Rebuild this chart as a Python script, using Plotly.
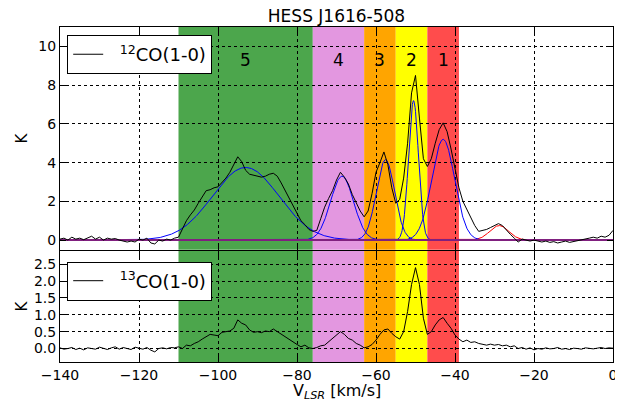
import numpy as np
import plotly.graph_objects as go

# ---------------- data ----------------
velocity = list(range(-140, 1))  # km/s

co12 = [0.05, 0.1, 0.0, 0.15, 0.05, 0.1, 0.02, 0.12, 0.2, 0.05,
        0.15, 0.0, 0.1, 0.05, 0.08, 0.0, -0.05, -0.1, -0.05, -0.1,
        0.05, 0.0, 0.1, -0.15, -0.2, 0.0, -0.05, 0.05, 0.0, 0.1,
        0.15, 0.6, 1.0, 1.3, 1.55, 1.9, 2.2, 2.55, 2.6, 2.7,
        2.75, 2.95, 3.2, 3.5, 3.9, 4.3, 4.05, 3.6, 3.4, 3.35,
        3.3, 3.25, 3.3, 3.4, 3.45, 3.3, 2.95, 2.55, 2.2, 1.8,
        1.35, 1.0, 0.8, 0.55, 0.45, 0.5, 1.1, 1.7, 2.15, 2.55,
        3.1, 3.5, 3.25, 2.9, 2.35, 1.95, 1.5, 1.2, 1.5, 2.4,
        3.5, 4.0, 4.55, 3.9, 2.7, 1.9, 2.1, 3.2, 5.0, 7.6,
        8.5, 6.3, 4.2, 3.8, 4.2, 5.0, 5.7, 6.05, 5.6, 4.7,
        3.7, 2.7, 2.0, 1.6, 1.15, 0.75, 0.45, 0.5, 0.55, 0.65,
        0.75, 0.85, 0.75, 0.5, 0.3, 0.1, -0.1, 0.05, 0.0, -0.05,
        0.0, -0.05, -0.1, -0.05, -0.12, -0.08, -0.15, -0.1, -0.05, -0.12,
        -0.08, -0.05, 0.0, 0.05, 0.1, 0.15, 0.1, 0.2, 0.15, 0.25,
        0.5]

co13 = [0.02, -0.02, 0.0, 0.03, -0.03, 0.01, -0.04, 0.02, 0.0, -0.02,
        0.04, 0.0, -0.03, 0.02, 0.05, -0.02, 0.03, 0.0, -0.03, 0.04,
        0.01, -0.02, 0.03, -0.05, -0.1, 0.0, 0.02, -0.01, 0.03, 0.02,
        0.05, 0.0, 0.1, 0.08, 0.15, 0.2, 0.28, 0.35, 0.42, 0.4,
        0.38, 0.48, 0.5, 0.52, 0.6, 0.85, 0.75, 0.7, 0.55, 0.48,
        0.5, 0.47, 0.52, 0.5, 0.58, 0.5, 0.42, 0.35, 0.28, 0.2,
        0.12, 0.05, 0.1, 0.02, 0.0, 0.03, 0.08, 0.1, 0.2, 0.3,
        0.38, 0.5, 0.42, 0.3, 0.25, 0.15, 0.1, 0.02, 0.05, 0.12,
        0.25, 0.42, 0.55, 0.58, 0.45, 0.35, 0.28, 0.5, 1.1, 1.9,
        2.4, 1.9, 0.9, 0.42, 0.5, 0.7, 0.85, 0.92, 0.75, 0.6,
        0.4, 0.28, 0.2, 0.25, 0.18, 0.2, 0.15, 0.12, 0.1, 0.13,
        0.1, 0.12, 0.08, 0.1, 0.05, 0.08, 0.0, 0.03, -0.02, 0.02,
        -0.04, 0.0, -0.02, 0.02, -0.01, 0.0, 0.03, -0.02, 0.0, -0.03,
        0.01, 0.0, -0.02, 0.02, 0.0, -0.01, 0.01, 0.03, 0.0, 0.02,
        0.01]

# Gaussian fit components (blue)
gauss_center = [-43.0, -50.5, -57.6, -68.6, -93.0]
gauss_amp = [5.2, 7.2, 4.15, 3.3, 3.75]
gauss_sigma = [2.9, 1.25, 2.3, 2.9, 8.4]
# extra component (red)
red_center = -28.8
red_amp = 0.75
red_sigma = 2.4

# velocity bands
band_lo = [-110, -76, -63, -55, -47]
band_hi = [-76, -63, -55, -47, -39]
band_colors = ["#4ca64c", "#e397e0", "#ffa500", "#ffff00", "#ff4c4c"]
band_labels = ["5", "4", "3", "2", "1"]

# ---------------- figure ----------------
FONT = "DejaVu Sans"
fig = go.Figure()

vfine = np.linspace(-140, 0, 1401)
fig.add_trace(go.Scatter(x=vfine, y=red_amp * np.exp(-(vfine - red_center) ** 2 / (2 * red_sigma ** 2)),
                         mode="lines", line=dict(color="#ff0000", width=1),
                         showlegend=False, xaxis="x", yaxis="y"))
for c, a, s in zip(gauss_center, gauss_amp, gauss_sigma):
    fig.add_trace(go.Scatter(x=vfine, y=a * np.exp(-(vfine - c) ** 2 / (2 * s * s)),
                             mode="lines", line=dict(color="#0000ff", width=1),
                             showlegend=False, xaxis="x", yaxis="y"))
fig.add_trace(go.Scatter(x=[-140, 0], y=[0, 0], mode="lines",
                         line=dict(color="#80207f", width=2),
                         showlegend=False, xaxis="x", yaxis="y", hoverinfo="skip"))

fig.add_trace(go.Scatter(x=velocity, y=co12, mode="lines",
                         line=dict(color="black", width=1),
                         name="  <sup>12</sup>CO(1-0)", legend="legend",
                         xaxis="x", yaxis="y"))
fig.add_trace(go.Scatter(x=velocity, y=co13, mode="lines",
                         line=dict(color="black", width=1),
                         name="  <sup>13</sup>CO(1-0)", legend="legend2",
                         xaxis="x2", yaxis="y2"))

shapes = []
annotations = []
for lo, hi, col, lab in zip(band_lo, band_hi, band_colors, band_labels):
    for xr, yr in (("x", "y domain"), ("x2", "y2 domain")):
        shapes.append(dict(type="rect", xref=xr, yref=yr, x0=lo, x1=hi, y0=0, y1=1,
                           fillcolor=col, line=dict(width=0), layer="below"))
    annotations.append(dict(x=(lo + hi) / 2, y=9.3, xref="x", yref="y", text=lab,
                            showarrow=False, font=dict(size=17, color="black", family=FONT)))

# axis titles as annotations so the plot area does not move
annotations.append(dict(x=-38 / 553, y=0.5 * (0.335 + 1), xref="paper", yref="paper", text="K",
                        showarrow=False, textangle=-90, xanchor="center", yanchor="middle",
                        font=dict(size=15, family=FONT, color="black")))
annotations.append(dict(x=-38 / 553, y=0.5 * 0.332, xref="paper", yref="paper", text="K",
                        showarrow=False, textangle=-90, xanchor="center", yanchor="middle",
                        font=dict(size=15, family=FONT, color="black")))
annotations.append(dict(x=0.5, y=-17 / 335, xref="paper", yref="paper",
                        text="V<sub><i>LSR</i></sub> [km/s]",
                        showarrow=False, xanchor="center", yanchor="top",
                        font=dict(size=16, family=FONT, color="black")))

axis_common = dict(showline=True, linecolor="black", linewidth=1, mirror="allticks",
                   ticks="inside", ticklen=6, tickcolor="black", automargin=False,
                   showgrid=True, gridcolor="black", griddash="dot", gridwidth=1,
                   zeroline=False, tickfont=dict(size=14, family=FONT, color="black"))

# page has an 8px body margin: figure is 8px smaller and margins shifted
fig.update_layout(
    width=615, height=395,
    margin=dict(l=52, r=10, t=19, b=41),
    paper_bgcolor="white", plot_bgcolor="white",
    font=dict(family=FONT, color="black"),
    title=dict(text="HESS J1616-508", x=0.5, xref="paper", xanchor="center",
               y=1 - 2 / 395, yref="container", yanchor="top", pad=dict(t=0, b=0),
               font=dict(size=17, family=FONT, color="black")),
    xaxis=dict(axis_common, range=[-140, 0], dtick=20, domain=[0, 1], anchor="y",
               showticklabels=False, matches="x2"),
    yaxis=dict(axis_common, range=[-0.5, 11], tickvals=[0, 2, 4, 6, 8, 10],
               domain=[0.335, 1], anchor="x"),
    xaxis2=dict(axis_common, range=[-140, 0], dtick=20, domain=[0, 1], anchor="y2"),
    yaxis2=dict(axis_common, range=[-0.4, 2.9], tickvals=[0, 0.5, 1, 1.5, 2, 2.5],
                tickformat=".1f", domain=[0, 0.332], anchor="x2"),
    legend=dict(x=0.013, y=0.976, xanchor="left", yanchor="top",
                bgcolor="white", bordercolor="black", borderwidth=1,
                font=dict(size=18, family=FONT, color="black")),
    legend2=dict(x=0.013, y=0.30, xanchor="left", yanchor="top",
                 bgcolor="white", bordercolor="black", borderwidth=1,
                 font=dict(size=18, family=FONT, color="black")),
    shapes=shapes,
    annotations=annotations,
    showlegend=True,
)

fig.write_html("out.html")
